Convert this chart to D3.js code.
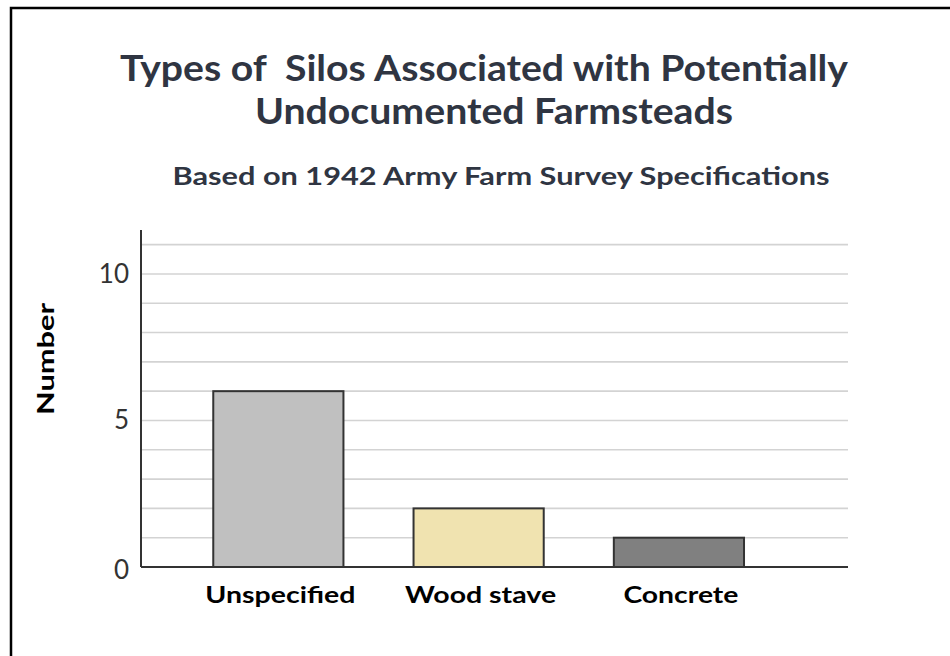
<!DOCTYPE html>
<html>
<head>
<meta charset="utf-8">
<script src="https://cdn.jsdelivr.net/npm/d3@7"></script>
<style>
  body { margin: 0; background: #fff; }
  svg { display: block; }
</style>
</head>
<body>
<svg width="950" height="656"></svg>
<script>
// chart data
const categories = ["Unspecified", "Wood stave", "Concrete"]
const counts = [6, 2, 1]
const barColors = ["#c0c0c0", "#f0e3b0", "#808080"]
const yTicks = [0, 5, 10]

const svg = d3.select("svg")
const font = "Lato, 'Open Sans', sans-serif"

// frame (only top and left edge are visible in the crop)
svg.append("path")
  .attr("d", "M11,656V8H950")
  .attr("fill", "none")
  .attr("stroke", "#000")
  .attr("stroke-width", 2.5)

const margin = {left: 141, right: 848, top: 230, bottom: 567}

const y = d3.scaleLinear()
  .domain([0, 11.5])
  .range([margin.bottom, margin.top])

const x = d3.scaleBand()
  .domain(categories)
  .range([margin.left, margin.right])
  .paddingInner(0.35)
  .paddingOuter(0.44)
  .align(0.41)

// gridlines at every integer
svg.append("g")
  .selectAll("line")
  .data(d3.range(1, 12))
  .enter().append("line")
  .attr("x1", margin.left)
  .attr("x2", margin.right)
  .attr("y1", d => y(d))
  .attr("y2", d => y(d))
  .attr("stroke", "#d3d3d3")
  .attr("stroke-width", 1.6)

// bars
svg.append("g")
  .selectAll("rect")
  .data(categories)
  .enter().append("rect")
  .attr("x", d => x(d))
  .attr("y", (d, i) => y(counts[i]))
  .attr("width", x.bandwidth())
  .attr("height", (d, i) => y(0) - y(counts[i]))
  .attr("fill", (d, i) => barColors[i])
  .attr("stroke", "#333")
  .attr("stroke-width", 2)

// axes lines
svg.append("line")
  .attr("x1", margin.left).attr("x2", margin.left)
  .attr("y1", margin.top).attr("y2", margin.bottom)
  .attr("stroke", "#333").attr("stroke-width", 2)
svg.append("line")
  .attr("x1", margin.left).attr("x2", margin.right)
  .attr("y1", margin.bottom).attr("y2", margin.bottom)
  .attr("stroke", "#333").attr("stroke-width", 2)

// y tick labels
svg.append("g")
  .selectAll("text")
  .data(yTicks)
  .enter().append("text")
  .attr("x", 129)
  .attr("y", d => y(d) + (d === 0 ? 12 : 9))
  .attr("text-anchor", "end")
  .style("font-family", font)
  .style("font-size", "26px")
  .style("fill", "#333")
  .text(d => d)

// category labels (stretched to the width of the original wide font)
const labelWidths = {"Unspecified": 150, "Wood stave": 151, "Concrete": 115}
svg.append("g")
  .selectAll("text")
  .data(categories)
  .enter().append("text")
  .attr("x", d => x(d) + x.bandwidth() / 2 + 2)
  .attr("y", 603)
  .attr("text-anchor", "middle")
  .attr("textLength", d => labelWidths[d])
  .attr("lengthAdjust", "spacingAndGlyphs")
  .style("font-family", font)
  .style("font-size", "23px")
  .style("font-weight", "bold")
  .style("fill", "#000")
  .text(d => d)

// y axis title
svg.append("text")
  .attr("transform", "translate(54,359) rotate(-90)")
  .attr("text-anchor", "middle")
  .attr("textLength", 112)
  .attr("lengthAdjust", "spacingAndGlyphs")
  .style("font-family", font)
  .style("font-size", "23px")
  .style("font-weight", "bold")
  .style("fill", "#000")
  .text("Number")

// titles
const titleLines = ["Types of\u00a0 Silos Associated with Potentially", "Undocumented Farmsteads"]
const titleWidths = [728, 478]
const titleCenters = [484, 494]
svg.append("g")
  .selectAll("text")
  .data(titleLines)
  .enter().append("text")
  .attr("x", (d, i) => titleCenters[i])
  .attr("y", (d, i) => 81 + i * 43)
  .attr("text-anchor", "middle")
  .attr("textLength", (d, i) => titleWidths[i])
  .attr("lengthAdjust", "spacingAndGlyphs")
  .style("font-family", font)
  .style("font-size", "37px")
  .style("font-weight", "bold")
  .style("fill", "#2f3542")
  .text(d => d)

svg.append("text")
  .attr("x", 501)
  .attr("y", 185)
  .attr("text-anchor", "middle")
  .attr("textLength", 657)
  .attr("lengthAdjust", "spacingAndGlyphs")
  .style("font-family", font)
  .style("font-size", "24px")
  .style("font-weight", "bold")
  .style("fill", "#2f3542")
  .text("Based on 1942 Army Farm Survey Specifications")
</script>
</body>
</html>
